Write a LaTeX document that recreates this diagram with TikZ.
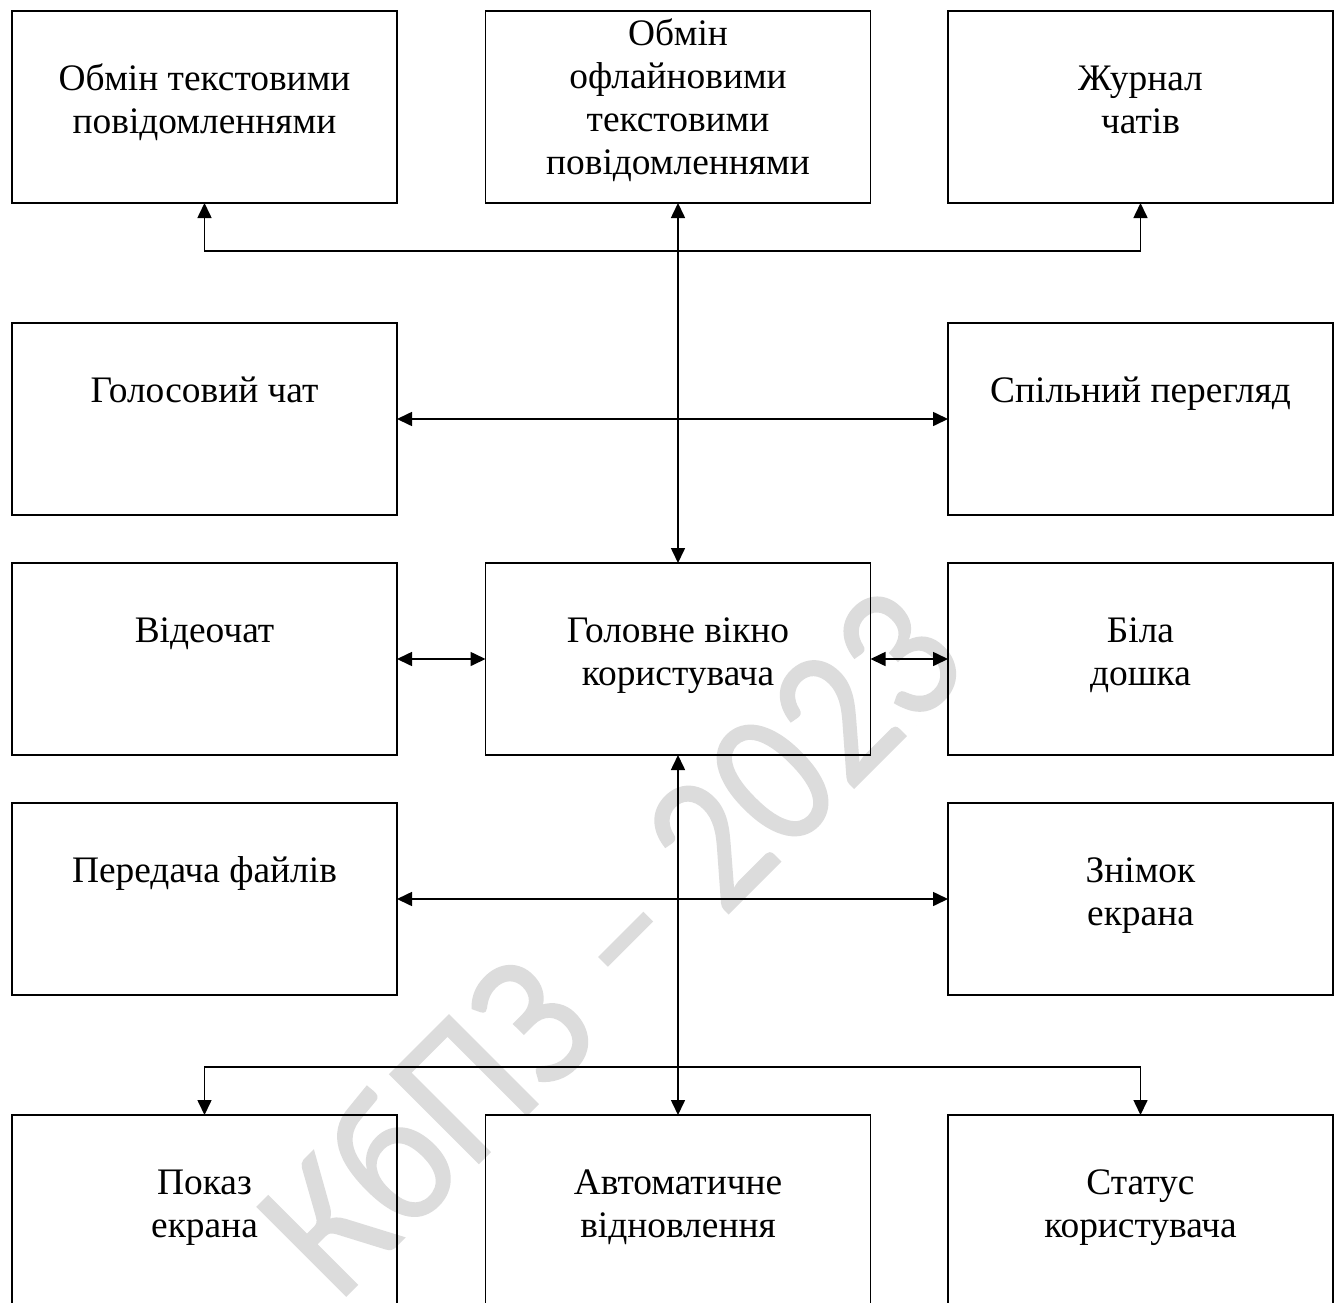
\documentclass[tikz,border=0pt]{standalone}
\usepackage{fontspec}
\setmainfont{Liberation Serif}
\newfontfamily\wmfont[FakeBold=0.8]{Carlito}
\usetikzlibrary{arrows.meta}
\definecolor{wmgray}{RGB}{220,220,220}
\begin{document}
\begin{tikzpicture}[x=1pt,y=-1pt,
  box/.style={draw, line width=1.8pt, minimum width=385pt, minimum height=192pt,
              inner sep=0pt, outer sep=0pt},
  lbl/.style={anchor=north, align=center, inner sep=0pt,
              font=\fontsize{37.4}{43}\selectfont},
  link/.style={line width=1.6pt, {Triangle[length=15pt,width=14pt]}-{Triangle[length=15pt,width=14pt]}},
  feed/.style={line width=1.6pt, -{Triangle[length=15pt,width=14pt]}}]

% page frame
\clip (0,0) rectangle (1341,1303);
\fill[white] (0,0) rectangle (1341,1303);

% background stamp
\node[rotate=45, yscale=1.12, anchor=base west, text=wmgray, inner sep=0pt,
      font=\wmfont\fontsize{175}{175}\selectfont]
  (stamp) at (338,1304) {КбПЗ – 2023};

% boxes
\node[box] (tl) at (204.5,107) {};
\node[box] (tm) at (678,107) {};
\node[box] (tr) at (1140.5,107) {};
\node[box] (voice) at (204.5,419) {};
\node[box] (view) at (1140.5,419) {};
\node[box] (video) at (204.5,659) {};
\node[box] (main) at (678,659) {};
\node[box] (board) at (1140.5,659) {};
\node[box] (files) at (204.5,899) {};
\node[box] (shot) at (1140.5,899) {};
\node[box] (show) at (204.5,1211) {};
\node[box] (auto) at (678,1211) {};
\node[box] (status) at (1140.5,1211) {};

% box texts
\node[lbl] (tlT) at ([yshift=-49pt]tl.north) {\strut Обмін текстовими\\повідомленнями};
\node[lbl] (tmT) at ([yshift=-4pt]tm.north) {\strut Обмін\\офлайновими\\текстовими\\повідомленнями};
\node[lbl] (trT) at ([yshift=-49pt]tr.north) {\strut Журнал\\чатів};
\node[lbl] (voiceT) at ([yshift=-49pt]voice.north) {\strut Голосовий чат};
\node[lbl] (viewT) at ([yshift=-49pt]view.north) {\strut Спільний перегляд};
\node[lbl] (videoT) at ([yshift=-49pt]video.north) {\strut Відеочат};
\node[lbl] (mainT) at ([yshift=-49pt]main.north) {\strut Головне вікно\\користувача};
\node[lbl] (boardT) at ([yshift=-49pt]board.north) {\strut Біла\\дошка};
\node[lbl] (filesT) at ([yshift=-49pt]files.north) {\strut Передача файлів};
\node[lbl] (shotT) at ([yshift=-49pt]shot.north) {\strut Знімок\\екрана};
\node[lbl] (showT) at ([yshift=-49pt]show.north) {\strut Показ\\екрана};
\node[lbl] (autoT) at ([yshift=-49pt]auto.north) {\strut Автоматичне\\відновлення};
\node[lbl] (statusT) at ([yshift=-49pt]status.north) {\strut Статус\\користувача};

% junctions on the central spine
\coordinate (jt) at (tm.south |- 0,251);
\coordinate (jb) at (main.south |- 0,1067);

% connectors
\draw[link] (tm.south) -- (main.north);
\draw[feed] (jt) -| (tl.south);
\draw[feed] (jt) -| (tr.south);
\draw[link] (voice.east) -- (view.west);
\draw[link] (video.east) -- (main.west);
\draw[link] (main.east) -- (board.west);
\draw[link] (files.east) -- (shot.west);
\draw[link] (main.south) -- (auto.north);
\draw[feed] (jb) -| (show.north);
\draw[feed] (jb) -| (status.north);
\end{tikzpicture}
\end{document}
